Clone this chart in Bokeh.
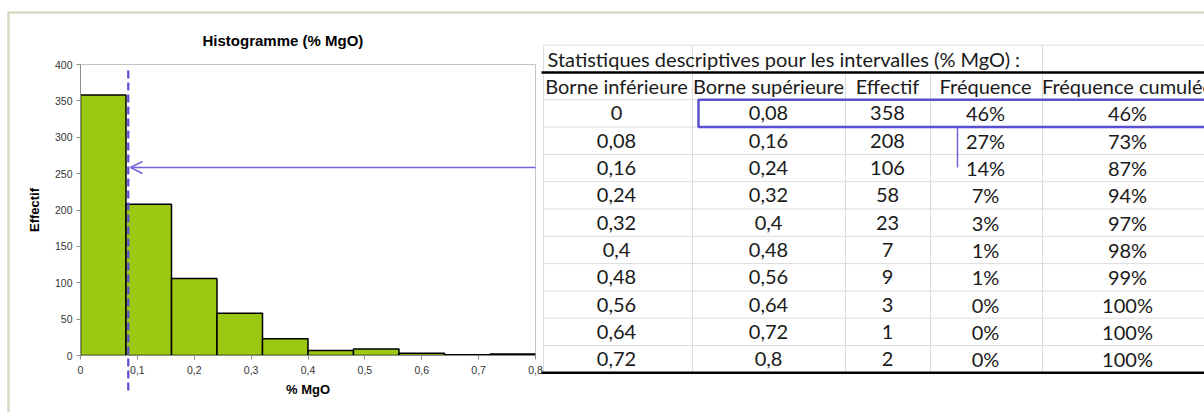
from bokeh.plotting import figure
from bokeh.models import (Range1d, FixedTicker, CustomJSTickFormatter, Arrow, OpenHead, Title)
from bokeh.core.properties import value
from bokeh.embed import file_html
from bokeh.resources import INLINE

# ---------------- data ----------------
borne_inf = [0, 0.08, 0.16, 0.24, 0.32, 0.4, 0.48, 0.56, 0.64, 0.72]
borne_sup = [0.08, 0.16, 0.24, 0.32, 0.4, 0.48, 0.56, 0.64, 0.72, 0.8]
effectif = [358, 208, 106, 58, 23, 7, 9, 3, 1, 2]
frequence = ["46%", "27%", "14%", "7%", "3%", "1%", "1%", "0%", "0%", "0%"]
freq_cumulee = ["46%", "73%", "87%", "94%", "97%", "98%", "99%", "100%", "100%", "100%"]
x_ticks = [0, 0.1, 0.2, 0.3, 0.4, 0.5, 0.6, 0.7, 0.8]
y_ticks = [0, 50, 100, 150, 200, 250, 300, 350, 400]
headers = ["Borne inférieure", "Borne supérieure", "Effectif", "Fréquence", "Fréquence cumulée"]
table_title = "Statistiques descriptives pour les intervalles (% MgO) :"
chart_title = "Histogramme (% MgO)"
seuil = 0.084

# ---------------- styles ----------------
GREEN = "#9bc813"
BLUE = "#5a4fcf"
BLUE2 = "#7265dc"
GRID = "#dcdcdc"
BEIGE = "#d9d9c4"
CHART_FONT = "Liberation Sans"
TABLE_FONT = "Lato"

W, H = 1204, 412
FL, FR, FT, FB = 80, 535, 64, 355   # plot frame in canvas pixels

def fr(v):
    return f"{v:g}".replace(".", ",")

p = figure(width=W, height=H, output_backend="svg", toolbar_location=None,
           x_range=Range1d(0, 0.8), y_range=Range1d(0, 400),
           min_border_left=FL, min_border_right=W - FR,
           min_border_top=FT, min_border_bottom=H - FB)
p.background_fill_color = "white"
p.border_fill_color = "white"
p.outline_line_color = "#c4c4c4"
p.outline_line_width = 1
p.xgrid.visible = False
p.ygrid.visible = False

# canvas-pixel helper ranges (for the table / decorations outside the frame)
p.extra_x_ranges = {"tx": Range1d(FL, FR)}
p.extra_y_ranges = {"ty": Range1d(start=FB, end=FT)}

p.title = Title(text=chart_title, align="left", offset=122, standoff=32,
                text_font=CHART_FONT, text_font_size="15px", text_font_style="bold",
                text_color="#000000")

for ax in (p.xaxis[0], p.yaxis[0]):
    ax.axis_line_color = "#8c8c8c"
    ax.major_tick_line_color = "#8c8c8c"
    ax.minor_tick_line_color = None
    ax.major_tick_in = 0
    ax.major_tick_out = 4
    ax.major_label_text_font = CHART_FONT
    ax.major_label_text_font_size = "10.5px"
    ax.major_label_text_color = "#333333"
    ax.axis_label_text_font = CHART_FONT
    ax.axis_label_text_font_size = "13px"
    ax.axis_label_text_font_style = "bold"
    ax.axis_label_text_color = "#000000"

p.xaxis.ticker = FixedTicker(ticks=x_ticks)
p.yaxis.ticker = FixedTicker(ticks=y_ticks)
p.xaxis.formatter = CustomJSTickFormatter(
    code="var s = tick.toFixed(1).replace('.', ','); return s == '0,0' ? '0' : s;")
p.xaxis.axis_label = "% MgO"
p.yaxis.axis_label = "Effectif"
p.xaxis.major_label_standoff = 6
p.xaxis.axis_label_standoff = 5
p.yaxis.major_label_standoff = 4
p.yaxis.axis_label_standoff = 10

# histogram bars
p.quad(left=borne_inf, right=borne_sup, bottom=0, top=effectif,
       fill_color=GREEN, line_color="black", line_width=1.5)

# ---------------- table (pixel layout) ----------------
row_top = 72.0
row_h = 27.3
col_edges = [543, 692, 845, 930, 1042, 1260]
col_centers = [616, 768, 887, 985, 1127]
n = len(borne_inf)
tbl_bottom = row_top + row_h * (n + 1)

common = dict(x_range_name="tx", y_range_name="ty", level="overlay")

# light grid lines
hy = [row_top + row_h * k for k in range(1, n + 1)] + [row_top - row_h]
p.segment(x0=[543] * len(hy), y0=hy, x1=[1260] * len(hy), y1=hy,
          line_color=GRID, line_width=1, **common)
vx = col_edges[:-1]
p.segment(x0=vx, y0=[row_top] * len(vx), x1=vx, y1=[tbl_bottom] * len(vx),
          line_color=GRID, line_width=1, **common)
p.segment(x0=[543, 692, 1042], y0=[row_top - row_h] * 3, x1=[543, 692, 1042], y1=[row_top] * 3,
          line_color=GRID, line_width=1, **common)

# thick black rules
p.segment(x0=[541, 541], y0=[row_top, tbl_bottom], x1=[1260, 1260], y1=[row_top, tbl_bottom],
          line_color="black", line_width=2.5, **common)

txt = dict(text_font=value(TABLE_FONT), text_font_size="20px", text_color="#1a1a1a",
           text_baseline="middle", **common)
p.text(x=[547], y=[row_top - row_h / 2], text=[table_title], text_align="left", **txt)
p.text(x=col_centers, y=[row_top + row_h / 2] * 5, text=headers, text_align="center", **txt)

ys = [row_top + row_h * (k + 1.5) for k in range(n)]
columns = [[fr(v) for v in borne_inf], [fr(v) for v in borne_sup],
           [str(v) for v in effectif], frequence, freq_cumulee]
for cx, col in zip(col_centers, columns):
    p.text(x=[cx] * n, y=ys, text=col, text_align="center", **txt)

# highlight box around first row
p.quad(left=[698], right=[1260], top=[row_top + row_h], bottom=[row_top + 2 * row_h],
       fill_alpha=0, line_color=BLUE, line_width=2.5, **common)

# dashed marker line
p.segment(x0=[seuil], y0=[70], x1=[seuil], y1=[390], y_range_name="ty", level="overlay",
          line_color=BLUE, line_width=2.2, line_dash="8 4")

# connector + arrow
p.segment(x0=[957], y0=[row_top + 2 * row_h], x1=[957], y1=[167],
          line_color=BLUE2, line_width=1.5, **common)
p.add_layout(Arrow(x_start=957, y_start=167, x_end=130, y_end=167,
                   x_range_name="tx", y_range_name="ty",
                   line_color=BLUE2, line_width=1.5,
                   end=OpenHead(size=12, line_color=BLUE2, line_width=1.5)))

# outer chart border (top and left)
p.line(x=[8, 8, 1260], y=[430, 12, 12], line_color=BEIGE, line_width=2.5, **common)

open("out.html", "w").write(file_html(p, INLINE))
